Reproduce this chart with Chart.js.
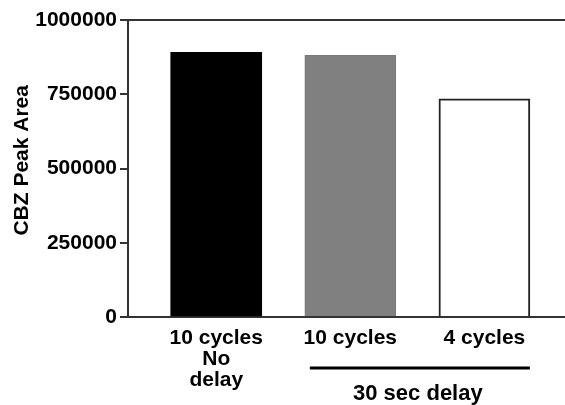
<!DOCTYPE html>
<html>
<head>
<meta charset="utf-8">
<script src="https://cdn.jsdelivr.net/npm/chart.js@4/dist/chart.umd.min.js"></script>
<style>
  body { margin: 0; background: #fff; }
  canvas { display: block; }
</style>
</head>
<body>
<canvas id="peakChart" width="565" height="405"></canvas>
<script>
// chart values
const categories = [["10 cycles", "No", "delay"], "10 cycles", "4 cycles"];
const peakArea = [891000, 881000, 735000];
const barColors = ["#000000", "#808080", "#ffffff"];
const barBorders = ["#000000", "#7a7a7a", "#222222"];
const yTicks = [0, 250000, 500000, 750000, 1000000];
const groups = [{ label: "30 sec delay", from: 1, to: 2 }];

const FONT = "'Liberation Sans', Arial, Helvetica, sans-serif";
const INK = "#000";
const LINE = "#333";

// top frame line + group bracket under the x labels
const extras = {
    id: "extras",
    afterDraw(chart) {
        const ctx = chart.ctx;
        const area = chart.chartArea;
        const bars = chart.getDatasetMeta(0).data;

        ctx.save();
        ctx.strokeStyle = LINE;
        ctx.lineWidth = 2;
        ctx.beginPath();
        ctx.moveTo(area.left, area.top);
        ctx.lineTo(area.right, area.top);
        ctx.stroke();

        groups.forEach(g => {
            const a = bars[g.from], b = bars[g.to];
            const x1 = a.x - a.width / 2 + 5;
            const x2 = b.x + b.width / 2;
            const y = area.bottom + 51;
            ctx.strokeStyle = "#000";
            ctx.lineWidth = 3;
            ctx.beginPath();
            ctx.moveTo(x1, y);
            ctx.lineTo(x2, y);
            ctx.stroke();

            ctx.fillStyle = INK;
            ctx.font = "bold 22px " + FONT;
            ctx.textAlign = "center";
            ctx.textBaseline = "middle";
            ctx.fillText(g.label, (x1 + x2) / 2 - 2, area.bottom + 77);
        });
        ctx.restore();
    }
};

new Chart(document.getElementById("peakChart"), {
    type: "bar",
    data: {
        datasets: [{
            data: categories.map((c, i) => ({ x: i, y: peakArea[i] })),
            backgroundColor: barColors,
            borderColor: barBorders,
            borderWidth: [0, 1, 2],
            borderSkipped: "bottom",
            barThickness: 91
        }]
    },
    options: {
        responsive: false,
        animation: false,
        devicePixelRatio: 1,
        layout: { padding: { top: 20, left: 0, right: 0, bottom: 0 } },
        plugins: {
            legend: { display: false },
            tooltip: { enabled: false }
        },
        scales: {
            x: {
                type: "linear",
                offset: false,
                min: -0.658,
                max: 2.601,
                grid: { display: false, drawTicks: false },
                border: { display: true, color: LINE, width: 2 },
                afterBuildTicks: scale => {
                    scale.ticks = categories.map((c, i) => ({ value: i }));
                },
                afterFit: scale => { scale.height = 88; },
                ticks: {
                    padding: 11,
                    maxRotation: 0,
                    autoSkip: false,
                    color: INK,
                    font: { family: FONT, size: 21, weight: "bold", lineHeight: 1 },
                    callback: value => categories[value]
                }
            },
            y: {
                min: 0,
                max: 1000000,
                grid: {
                    drawOnChartArea: false,
                    drawTicks: true,
                    tickLength: 8,
                    color: LINE,
                    lineWidth: 2
                },
                border: { display: true, color: LINE, width: 2 },
                afterBuildTicks: scale => {
                    scale.ticks = yTicks.map(v => ({ value: v }));
                },
                afterFit: scale => { scale.width = 128; },
                ticks: {
                    padding: 3,
                    color: INK,
                    font: { family: FONT, size: 21, weight: "bold" },
                    callback: value => String(value)
                },
                title: {
                    display: true,
                    text: "\u2002 CBZ Peak Area",
                    color: INK,
                    padding: { top: 10, bottom: 0 },
                    font: { family: FONT, size: 21, weight: "bold" }
                }
            }
        }
    },
    plugins: [extras]
});
</script>
</body>
</html>
